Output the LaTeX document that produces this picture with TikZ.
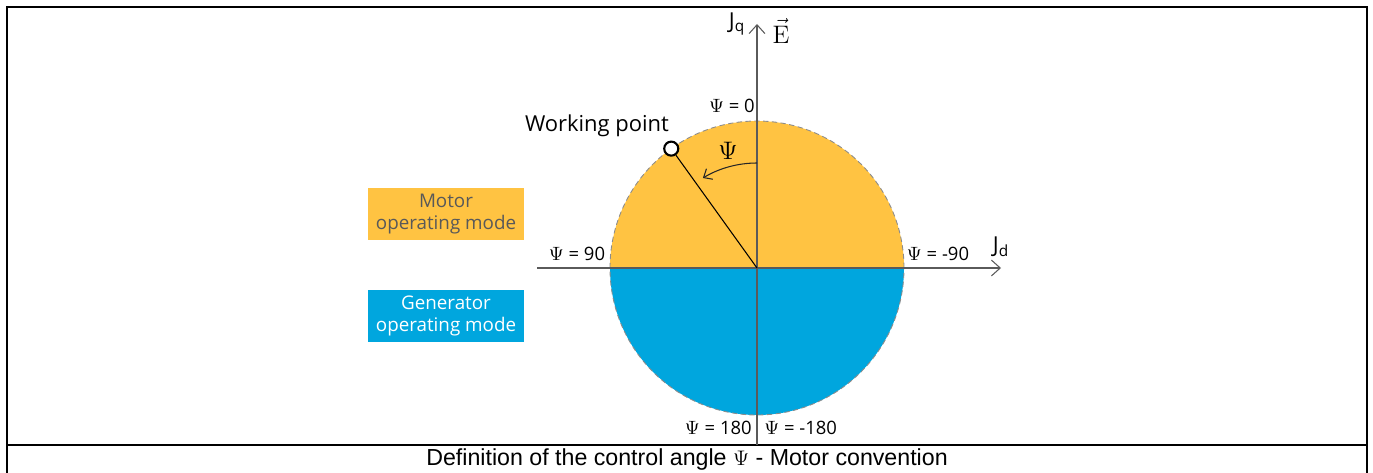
\documentclass[tikz,border=0pt]{standalone}
\usepackage{amsmath}
\usepackage[no-math]{fontspec}
\setmainfont{Open Sans}
\newfontfamily\capfont{Liberation Sans}
\usetikzlibrary{arrows.meta,calc}
\definecolor{motoryellow}{HTML}{FFC342}
\definecolor{genblue}{HTML}{00A6DE}
\definecolor{axisgray}{HTML}{5A5A5A}
\definecolor{boxtext}{HTML}{595959}
\definecolor{rimgray}{HTML}{8C8C8C}

\begin{document}
\begin{tikzpicture}[x=0.02cm, y=0.02cm,
      modebox/.style={minimum width=3.12cm, minimum height=1.04cm, align=center,
                      inner sep=0pt, font=\fontsize{10.7}{12.5}\selectfont},
      axis/.style={draw=axisgray, line width=0.6pt, -{Straight Barb[length=5pt, width=9pt]}},
      darrow/.style={draw=black!85, line width=0.6pt, -{Straight Barb[length=4pt, width=7pt]}},
      psilabel/.style={inner sep=0pt, font=\fontsize{10.5}{12}\selectfont},
      frame/.style={line width=1.4pt},
    ]
      \useasboundingbox (0,0) rectangle (1373,-473);
      % frame of the figure
      \draw[frame] (6,-7) -- (360,-7);
      \draw[line width=0.6pt] (360,-7) -- (1013,-7);
      \draw[frame] (1013,-7) -- (1368,-7);
      \draw[frame] (7,-7) -- (7,-473);
      \draw[frame] (1367,-7) -- (1367,-473);
      \draw[line width=0.9pt] (7,-445) -- (1367,-445);

      % half discs
      \coordinate (o) at (757,-268);
      \fill[motoryellow] ($(o)+(147,0)$) arc[start angle=0, end angle=180, radius=147] -- cycle;
      \fill[genblue] ($(o)+(-147,0)$) arc[start angle=180, end angle=360, radius=147] -- cycle;
      \draw[rimgray, line width=0.5pt, densely dashed] (o) circle[radius=147];

      % axes
      \coordinate (dstart) at (537,-268);
      \coordinate (dend) at (1001,-268);
      \coordinate (qstart) at (757,-445);
      \coordinate (qend) at (757,-24);
      \draw[axis] (dstart) -- (dend);
      \draw[axis] (qstart) -- (qend);

      % working point
      \node[circle, draw, fill=white, line width=1.2pt, minimum size=8pt, inner sep=0pt]
        (wp) at ($(o)+(125.7:147)$) {};
      \draw[line width=0.6pt] (wp) -- (o);
      \draw[darrow] ($(o)+(90:105)$) arc[start angle=90, end angle=121, radius=105];
      \node[font=\fontsize{15}{17}\selectfont] (psi) at (728,-151) {$\Psi$};
      \node[font=\fontsize{12.5}{15}\selectfont, inner sep=0pt] (wplabel) at (597,-126) {Working point};

      % axis labels
      \node[font=\fontsize{12.5}{14}\selectfont, inner sep=0pt] (jq) at (737,-24) {J$_{\text{q}}$};
      \node[font=\fontsize{14}{16}\selectfont, inner sep=0pt] (evec) at (781,-31) {$\vec{\mathrm{E}}$};
      \node[font=\fontsize{12.5}{14}\selectfont, inner sep=0pt] (jd) at (1001,-247) {J$_{\text{d}}$};

      \node[psilabel, anchor=east] (p0) at (755,-106) {$\Psi$ = 0};
      \node[psilabel] (p90) at (577,-254) {$\Psi$ = 90};
      \node[psilabel] (pm90) at (938,-254) {$\Psi$ = -90};
      \node[psilabel, anchor=east] (p180) at (752,-428) {$\Psi$ = 180};
      \node[psilabel, anchor=west] (pm180) at (764,-428) {$\Psi$ = -180};

      % operating modes
      \node[modebox, fill=motoryellow, text=boxtext] (motor) at (446,-214) {Motor\\operating mode};
      \node[modebox, fill=genblue, text=white] (gen) at (446,-316) {Generator\\operating mode};

      % caption
      \node[font=\capfont\fontsize{13.2}{15}\selectfont, inner sep=0pt] (caption) at (687,-460)
        {Definition of the control angle $\Psi$ - Motor convention};
    \end{tikzpicture}
\end{document}
